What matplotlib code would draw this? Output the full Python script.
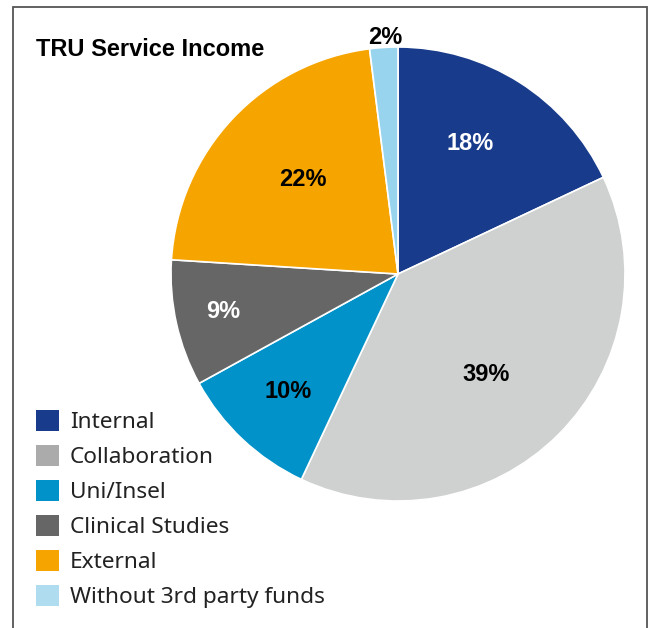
"""TRU service income by funding source, as a pie with a side legend."""
import matplotlib.pyplot as plt
import numpy as np
from matplotlib.patches import Patch, Rectangle

# ── Data ───────────────────────────────────────────────────────────────────────
categories = ["Internal", "Collaboration", "Uni/Insel", "Clinical Studies",
              "External", "Without 3rd party funds"]
shares = [18, 39, 10, 9, 22, 2]

# ── Style ──────────────────────────────────────────────────────────────────────
plt.rcParams.update({
    "font.family": ["Noto Sans", "DejaVu Sans"],
    "savefig.facecolor": "white",
})
BOLD_FAMILY = ["Liberation Sans", "DejaVu Sans"]
PIE_COLORS = ["#183b8b", "#cfd0d0", "#0092c8", "#666666", "#f6a500", "#98d4ee"]
LEGEND_COLORS = ["#183b8b", "#ababab", "#0092c8", "#666666", "#f6a500", "#b0dcf0"]
LABEL_COLORS = ["white", "black", "black", "white", "black", "black"]
# label placement: distance from centre (pie radii), angular nudge (deg)
LABEL_RADIUS = [0.666, 0.58, 0.70, 0.786, 0.598, 1.055]
LABEL_NUDGE = [4.0, -3.1, -0.5, -1.3, -2.4, -0.5]

W, H = 654, 628
fig = plt.figure(figsize=(W / 100, H / 100), dpi=100)

# pie axes placed in pixel units: centre (398, 274), radius 227
cx, cy, r = 398, 274, 227
ax = fig.add_axes([(cx - r) / W, (H - cy - r) / H, 2 * r / W, 2 * r / H])
wedges, _ = ax.pie(shares, colors=PIE_COLORS, startangle=90, counterclock=False,
                   radius=1, wedgeprops={"edgecolor": "white", "linewidth": 1.2})
ax.set_xlim(-1, 1)
ax.set_ylim(-1, 1)
ax.set_aspect("equal")
ax.axis("off")

for w, val, rad, nudge, tc in zip(wedges, shares, LABEL_RADIUS, LABEL_NUDGE,
                                  LABEL_COLORS):
    ang = np.deg2rad((w.theta1 + w.theta2) / 2 + nudge)
    ax.text(rad * np.cos(ang), rad * np.sin(ang), f"{val}%",
            ha="center", va="center_baseline", fontsize=17, fontweight="bold",
            family=BOLD_FAMILY, color=tc, clip_on=False)

# title
fig.text(36 / W, 1 - 56 / H, "TRU Service Income", fontsize=17,
         fontweight="bold", family=BOLD_FAMILY, ha="left", va="baseline",
         color="black")

# legend
handles = [Patch(facecolor=c, edgecolor="none", label=lab)
           for c, lab in zip(LEGEND_COLORS, categories)]
fig.legend(handles=handles, loc="upper left",
           bbox_to_anchor=(36 / W, 1 - 410 / H), bbox_transform=fig.transFigure,
           frameon=False, fontsize=16.3, borderpad=0, borderaxespad=0,
           handlelength=1.02, handleheight=1.02, handletextpad=0.48,
           labelspacing=0.53, labelcolor="#222222")

# frame, open at the bottom edge
fig.add_artist(Rectangle((13 / W, -0.05), (647 - 13) / W, 1.05 - 6.5 / H,
                         transform=fig.transFigure, fill=False,
                         edgecolor="#555555", linewidth=1.3, clip_on=False))

fig.savefig("out.png", dpi=100)
